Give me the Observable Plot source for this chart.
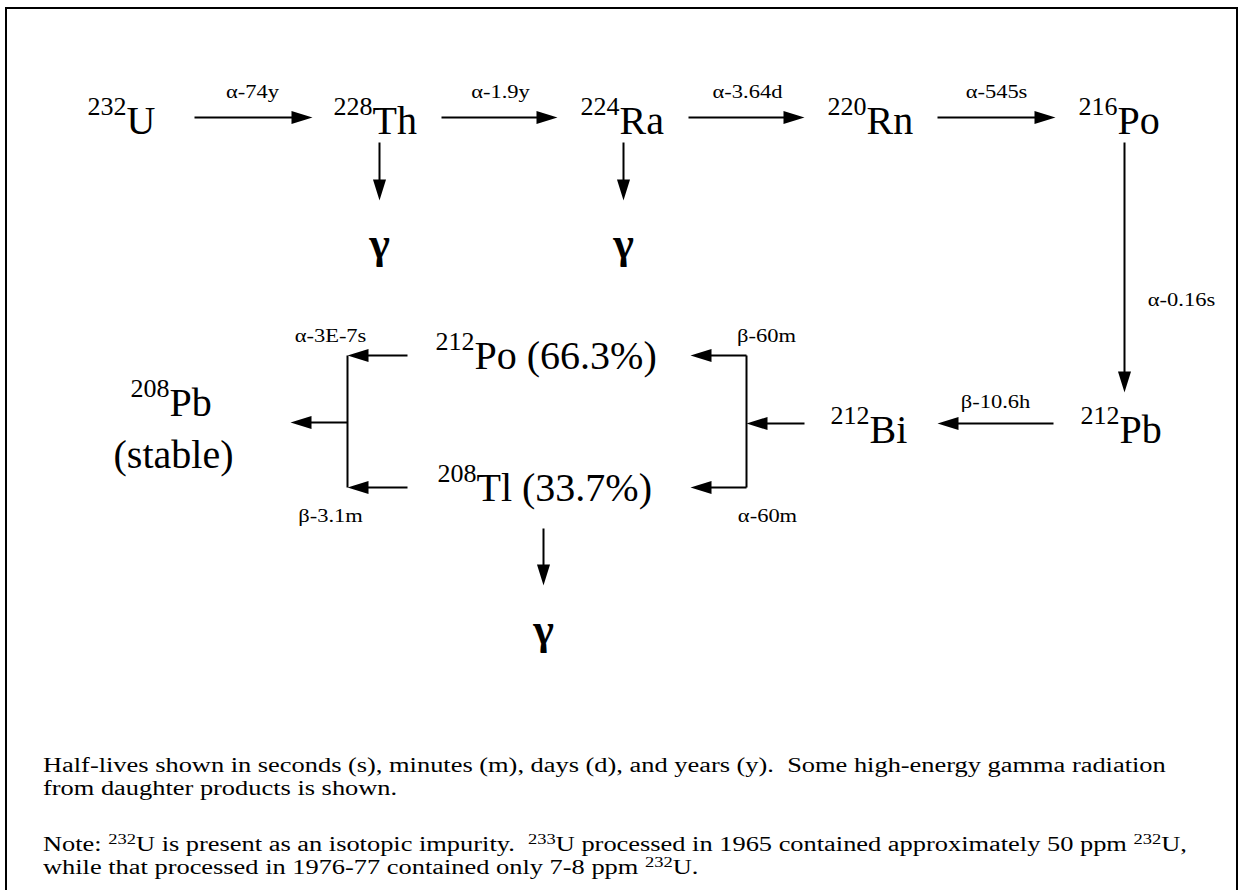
<!DOCTYPE html>
<html>
<head>
<meta charset="utf-8">
<script src="https://cdn.jsdelivr.net/npm/d3@7"></script>
<script src="https://cdn.jsdelivr.net/npm/@observablehq/plot@0.6"></script>
<style>
  html, body { margin: 0; padding: 0; background: #fff; }
  body { width: 1240px; height: 890px; overflow: hidden; position: relative; font-family: "Liberation Serif", "Times New Roman", serif; color: #000; }
  #frame { position: absolute; left: 5px; top: 7px; width: 1233px; height: 900px; border: 2px solid #000; border-bottom: none; box-sizing: border-box; }
  #chart { position: absolute; left: 0; top: 0; }
  .cap { position: absolute; left: 43px; font-size: 20px; line-height: 23px; white-space: nowrap; transform: scaleX(1.32); transform-origin: 0 0; }
  .cap sup { font-size: 0.7em; vertical-align: 0.5em; line-height: 0; }
</style>
</head>
<body>
<div id="frame"></div>
<div id="chart"></div>
<div id="captions"></div>
<script>
// ---------------- data ----------------
const massNumbers  = [232, 228, 224, 220, 216, 212, 212, 212, 208, 208];
const elements     = ["U", "Th", "Ra", "Rn", "Po", "Pb", "Bi", "Po", "Tl", "Pb"];
const suffixes     = ["", "", "", "", "", "", "", " (66.3%)", " (33.7%)", ""];
const notes        = ["", "", "", "", "", "", "", "", "", "(stable)"];
const decayModes   = ["α", "α", "α", "α", "α", "β", "β", "α", "α", "β"];
const halfLives    = ["74y", "1.9y", "3.64d", "545s", "0.16s", "10.6h", "60m", "60m", "3E-7s", "3.1m"];
const gammaSymbol  = "γ";
const gammaFrom    = ["Th", "Ra", "Tl"];
const captionParagraphs = [
  "Half-lives shown in seconds (s), minutes (m), days (d), and years (y).&nbsp; Some high-energy gamma radiation<br>from daughter products is shown.",
  "Note: <sup>232</sup>U is present as an isotopic impurity.&nbsp; <sup>233</sup>U processed in 1965 contained approximately 50 ppm <sup>232</sup>U,<br>while that processed in 1976-77 contained only 7-8 ppm <sup>232</sup>U."
];

// ---------------- layout (diagram geometry) ----------------
const W = 1240, H = 720;
const MAIN = 40, SUP = 26, LBL = 18, LBL_STRETCH = 1.25;
// split x (between superscript and symbol) and baseline y of each isotope label
const nodeX = [126, 372, 619, 866, 1117, 1119, 869, 474, 476, 169];
const nodeY = [133, 133, 133, 133, 133, 442, 442, 368, 500, 415];
const SUP_RISE = 19;
const nodes = elements.map((el, i) => ({
  mass: String(massNumbers[i]), name: el + suffixes[i], note: notes[i],
  x: nodeX[i], y: nodeY[i]
}));

// arrow segments: [x1, y1, x2, y2, hasHead]
const segs = [
  [194, 117, 312, 117, 1], [441, 117, 557, 117, 1], [688, 117, 804, 117, 1], [937, 117, 1055, 117, 1],
  [1124, 142, 1124, 392, 1],
  [1053, 423, 937, 423, 1],
  [804, 423, 746, 423, 1], [746, 355, 746, 487, 0], [746, 355, 690, 355, 1], [746, 487, 690, 487, 1],
  [407, 355, 347, 355, 1], [407, 487, 347, 487, 1], [347, 355, 347, 487, 0], [347, 422, 290, 422, 1],
  [379, 142, 379, 200, 1], [623, 142, 623, 200, 1], [543, 528, 543, 585, 1]
].map(([x1, y1, x2, y2, h]) => ({x1, y1, x2, y2, h, angle: Math.atan2(y2 - y1, x2 - x1) * 180 / Math.PI}));

// half-life label centres, in the order of decayModes/halfLives
const lblX = [252, 500, 747, 996, 1181, 995, 766, 767, 330, 330];
const lblY = [97, 97, 97, 97, 305, 407, 341, 521, 341, 521];
const labels = decayModes.map((m, i) => ({text: m + "-" + halfLives[i], x: lblX[i], y: lblY[i]}));

const gammaX = [379, 623, 543], gammaY = [257, 257, 643];
const gammas = gammaFrom.map((g, i) => ({from: g, x: gammaX[i], y: gammaY[i]}));

// filled, slender arrow head with its tip at the origin, pointing right
const headSymbol = {
  draw(ctx) {
    ctx.moveTo(0, 0);
    ctx.lineTo(-21, -6.5);
    ctx.lineTo(-21, 6.5);
    ctx.closePath();
  }
};

const font = "Liberation Serif";
const rad = Math.PI / 180;
const chart = Plot.plot({
  width: W, height: H,
  margin: 0,
  x: {domain: [0, W], range: [0, W], axis: null},
  y: {domain: [0, H], range: [0, H], axis: null},
  style: {background: "transparent", overflow: "visible"},
  marks: [
    Plot.link(segs, {x1: "x1", y1: "y1",
                     x2: d => d.h ? d.x2 - 12 * Math.cos(d.angle * rad) : d.x2,
                     y2: d => d.h ? d.y2 - 12 * Math.sin(d.angle * rad) : d.y2,
                     stroke: "black", strokeWidth: 2}),
    Plot.dot(segs.filter(d => d.h), {x: "x2", y: "y2", rotate: "angle", symbol: headSymbol, r: 5, fill: "black", stroke: null}),
    Plot.text(nodes, {x: "x", y: d => d.y - SUP_RISE, text: "mass", textAnchor: "end", lineAnchor: "bottom",
                      fontSize: SUP, fontFamily: font, fill: "black"}),
    Plot.text(nodes, {x: "x", y: "y", text: "name", textAnchor: "start", lineAnchor: "bottom",
                      fontSize: MAIN, fontFamily: font, fill: "black"}),
    Plot.text(nodes.filter(d => d.note), {x: d => d.x + 4, y: d => d.y + 52, text: "note", textAnchor: "middle", lineAnchor: "bottom",
                      fontSize: MAIN, fontFamily: font, fill: "black"}),
    Plot.text(labels, {x: "x", y: "y", text: "text", textAnchor: "middle", lineAnchor: "bottom",
                       fontSize: LBL, fontFamily: font, fill: "black"}),
    Plot.text(gammas, {x: "x", y: "y", text: () => gammaSymbol, textAnchor: "middle", lineAnchor: "bottom",
                       fontSize: 44, fontWeight: "bold", fontFamily: font, fill: "black"})
  ]
});
// the half-life labels are set in a wide face: stretch them horizontally about their centres
chart.querySelectorAll(`g[font-size="${LBL}"] text`).forEach(t => {
  const tr = t.getAttribute("transform");
  if (tr) t.setAttribute("transform", tr + ` scale(${LBL_STRETCH},1)`);
});
document.getElementById("chart").appendChild(chart);

// caption paragraphs below the plot
const capTops = [754, 833];
const capBox = document.getElementById("captions");
captionParagraphs.forEach((t, i) => {
  const div = document.createElement("div");
  div.className = "cap";
  div.style.top = capTops[i] + "px";
  div.innerHTML = t;
  capBox.appendChild(div);
});
</script>
</body>
</html>
